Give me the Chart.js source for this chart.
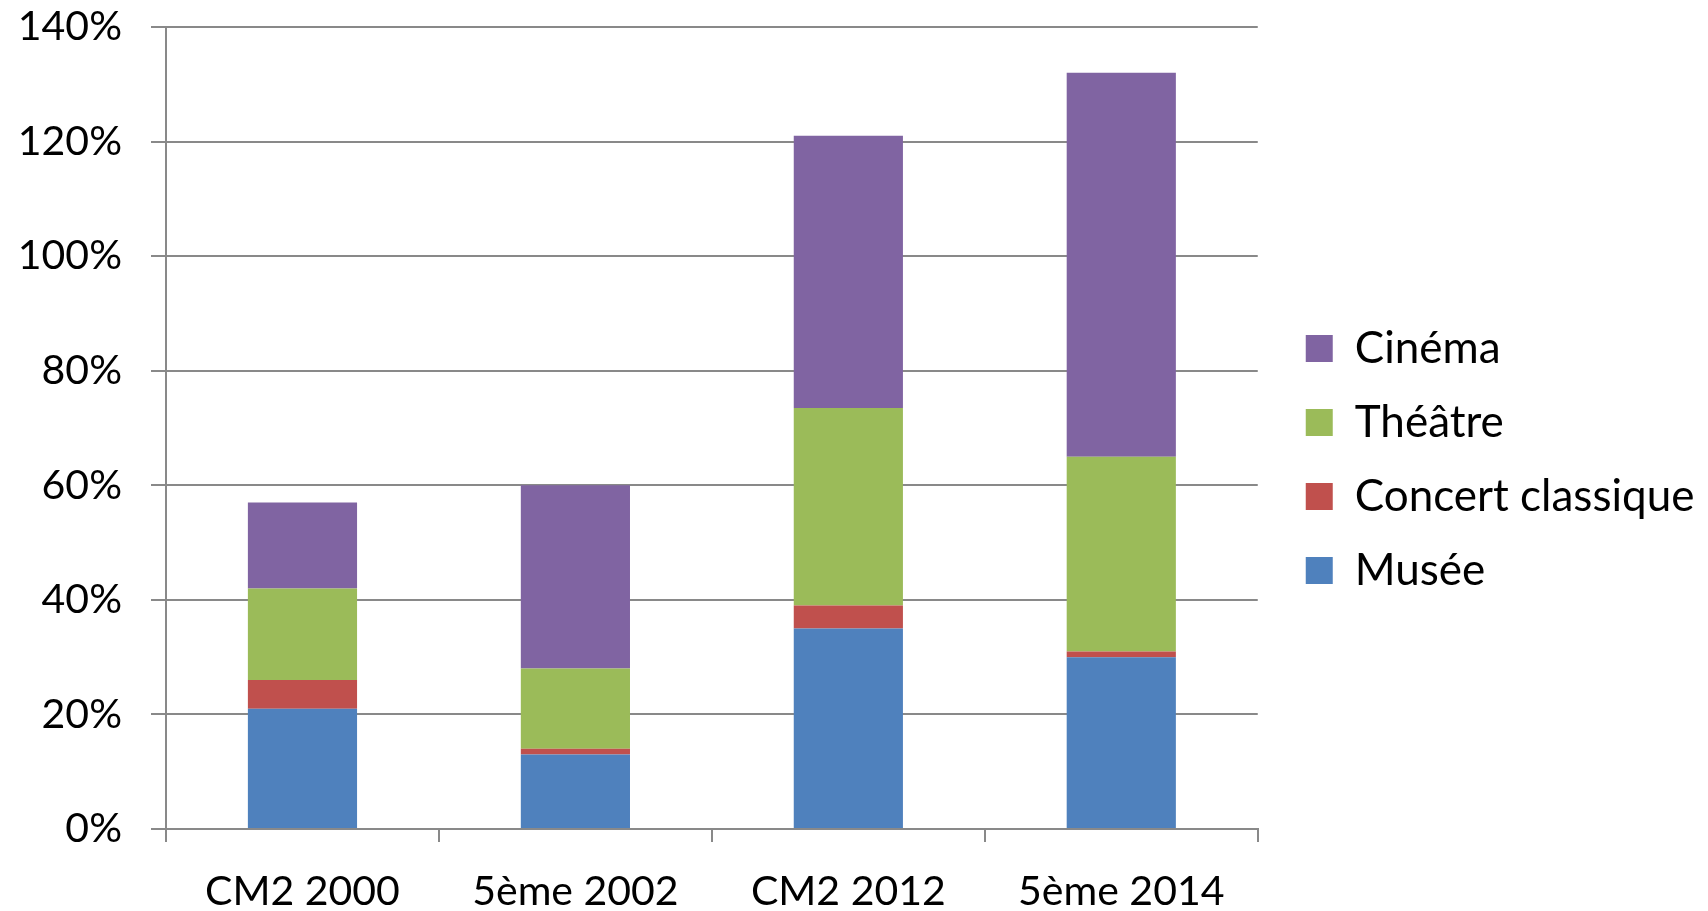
<!DOCTYPE html>
<html>
<head>
<meta charset="utf-8">
<script src="https://cdn.jsdelivr.net/npm/chart.js@4/dist/chart.umd.min.js"></script>
<style>
  html, body { margin: 0; padding: 0; background: #fff; }
  #wrap { width: 1708px; height: 911px; }
</style>
</head>
<body>
<div id="wrap"><canvas id="sortiesChart"></canvas></div>
<script>
const categories = ['CM2 2000', '5ème 2002', 'CM2 2012', '5ème 2014'];

// shares in percent, stacked bottom to top
const musee = [21, 13, 35, 30];
const concert = [5, 1, 4, 1];
const theatre = [16, 14, 34.5, 34];
const cinema = [15, 32, 47.5, 67];

const yTicks = [0, 20, 40, 60, 80, 100, 120, 140];

const axisGrey = '#898989';
const tickFont = { family: 'Lato', size: 41, lineHeight: 1 };
const legendFont = { family: 'Lato', size: 44, lineHeight: 1 };

// leave a gap between the plot and the legend squares
const legendGap = {
  id: 'legendGap',
  afterLayout(chart) {
    chart.legend.left += 18;
    chart.legend.right += 18;
  }
};

const ctx = document.getElementById('sortiesChart').getContext('2d');

new Chart(ctx, {
  type: 'bar',
  data: {
    labels: categories,
    datasets: [
      { label: 'Musée', data: musee, backgroundColor: '#4F81BD' },
      { label: 'Concert classique', data: concert, backgroundColor: '#C0504D' },
      { label: 'Théâtre', data: theatre, backgroundColor: '#9BBB59' },
      { label: 'Cinéma', data: cinema, backgroundColor: '#8064A2' }
    ]
  },
  plugins: [legendGap],
  options: {
    responsive: true,
    maintainAspectRatio: false,
    animation: false,
    events: [],
    datasets: {
      bar: { categoryPercentage: 1, barPercentage: 0.4 }
    },
    layout: {
      padding: { left: 0, right: 31, top: 8, bottom: 0 }
    },
    plugins: {
      tooltip: { enabled: false },
      legend: {
        position: 'right',
        reverse: true,
        labels: {
          color: '#000',
          font: legendFont,
          boxWidth: 27,
          boxHeight: 27,
          padding: 30
        }
      }
    },
    scales: {
      x: {
        stacked: true,
        grid: {
          offset: true,
          drawOnChartArea: false,
          drawTicks: true,
          tickLength: 13,
          color: axisGrey,
          lineWidth: 2
        },
        border: { color: axisGrey, width: 2 },
        ticks: { color: '#000', font: tickFont, padding: 29, maxRotation: 0 },
        afterFit: axis => {
          axis.height = 82;
          axis.paddingLeft = 0;
          axis.paddingRight = 0;
        }
      },
      y: {
        stacked: true,
        min: 0,
        max: 140,
        afterBuildTicks: axis => {
          axis.ticks = yTicks.map(v => ({ value: v }));
        },
        grid: {
          color: axisGrey,
          lineWidth: 2,
          tickLength: 15
        },
        border: { color: axisGrey, width: 2 },
        ticks: {
          color: '#000',
          font: tickFont,
          padding: 29,
          callback: v => v + '%'
        },
        afterFit: axis => {
          axis.width = 166;
          axis.paddingTop = 27;
          axis.paddingBottom = 0;
        }
      }
    }
  }
});
</script>
</body>
</html>
